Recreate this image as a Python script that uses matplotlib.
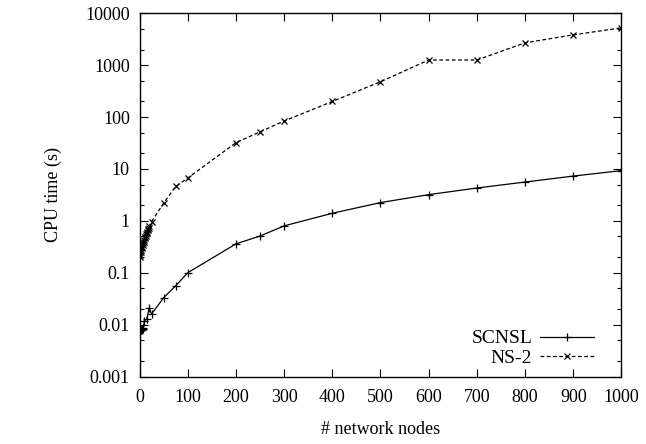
import matplotlib
matplotlib.use("Agg")
import matplotlib.pyplot as plt
from matplotlib.ticker import LogLocator, FixedLocator, NullFormatter, FixedFormatter

plt.rcParams['font.family'] = ['Liberation Serif', 'DejaVu Serif']
plt.rcParams['mathtext.fontset'] = 'stix'

# Data
scnsl_x = [1, 2, 3, 4, 5, 6, 7, 8, 10, 15, 20, 25, 50, 75, 100, 200, 250, 300, 400, 500, 600, 700, 800, 900, 1000]
scnsl_y = [0.008, 0.008, 0.008, 0.008, 0.008, 0.0082, 0.0083, 0.0085, 0.012, 0.0128, 0.021, 0.016, 0.033, 0.056, 0.10,
           0.36, 0.51, 0.80, 1.40, 2.25, 3.2, 4.3, 5.6, 7.3, 9.3]

ns2_x = [1, 2, 3, 4, 5, 6, 7, 8, 9, 10, 11, 12, 13, 14, 15, 16, 17, 18, 19, 20, 25, 50, 75, 100,
         200, 250, 300, 400, 500, 600, 700, 800, 900, 1000]
ns2_y = [0.20, 0.22, 0.25, 0.27, 0.30, 0.32, 0.35, 0.38, 0.40, 0.43, 0.46, 0.49, 0.52, 0.55, 0.58, 0.62, 0.66, 0.70, 0.74, 0.78,
         0.97, 2.2, 4.6, 6.7, 32, 52, 84, 200, 480, 1260, 1260, 2700, 3850, 5250]

xticks = [0, 100, 200, 300, 400, 500, 600, 700, 800, 900, 1000]
yticks = [0.001, 0.01, 0.1, 1, 10, 100, 1000, 10000]
ytick_labels = ['0.001', '0.01', '0.1', '1', '10', '100', '1000', '10000']

fig = plt.figure(figsize=(6.46, 4.44), dpi=100)
ax = fig.add_axes([0.216, 0.152, 0.746, 0.818])

ax.plot(scnsl_x, scnsl_y, color='black', linewidth=0.9, marker='+', markersize=6,
        markeredgewidth=0.9, label='SCNSL')
ax.plot(ns2_x, ns2_y, color='black', linewidth=0.9, linestyle=(0, (3, 2)), marker='x', markersize=5,
        markeredgewidth=0.9, label='NS-2')

ax.set_yscale('log')
ax.set_xlim(0, 1000)
ax.set_ylim(0.001, 10000)

ax.xaxis.set_major_locator(FixedLocator(xticks))
ax.set_xticklabels([str(t) for t in xticks])
ax.yaxis.set_major_locator(FixedLocator(yticks))
ax.yaxis.set_major_formatter(FixedFormatter(ytick_labels))
ax.yaxis.set_minor_locator(LogLocator(base=10, subs=[2, 5], numticks=20))
ax.yaxis.set_minor_formatter(NullFormatter())

ax.tick_params(axis='both', which='both', direction='in', top=True, right=True, labelsize=13)
ax.tick_params(axis='both', which='major', length=6, width=0.8)
ax.tick_params(axis='x', which='major', pad=9)
ax.tick_params(axis='y', which='major', pad=7)
ax.tick_params(axis='both', which='minor', length=3, width=0.8)
for s in ax.spines.values():
    s.set_linewidth(1.0)

ax.set_xlabel('# network nodes', fontsize=13, labelpad=11)
ax.set_ylabel('CPU time (s)', fontsize=13, labelpad=17)

leg = ax.legend(loc='lower right', frameon=False, markerfirst=False, fontsize=14,
                handlelength=2.75, handletextpad=0.4, borderaxespad=0.3, labelspacing=0.1,
                bbox_to_anchor=(0.9705, -0.011))

fig.savefig('out.png', dpi=100)
